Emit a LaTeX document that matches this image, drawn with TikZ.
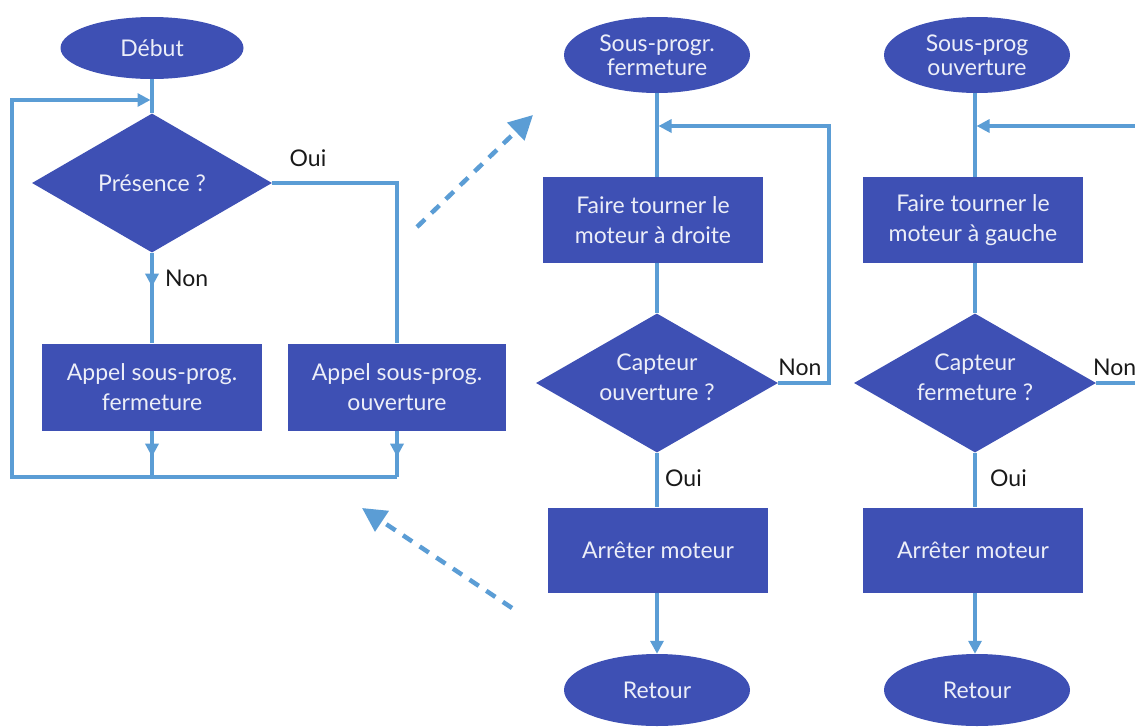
\documentclass[tikz,border=0pt]{standalone}
\usepackage{fontspec}
\setmainfont{Lato}
\usetikzlibrary{shapes.geometric,arrows.meta}
\definecolor{boxblue}{RGB}{62,80,180}
\definecolor{linkblue}{RGB}{91,157,213}
\definecolor{boxtext}{RGB}{236,238,248}
\tikzset{
  base/.style={fill=boxblue, text=boxtext, font=\fontsize{23}{30}\selectfont, align=center, inner sep=0pt},
  term/.style={base, ellipse, minimum width=186, minimum height=76, font=\fontsize{23}{24}\selectfont},
  proc/.style={base, rectangle, minimum width=220, minimum height=86},
  decision/.style={base, diamond, shape aspect=1.74, minimum width=242, minimum height=139},
  link/.style={draw=linkblue, line width=3.2pt},
  arr/.style={link, -{Triangle[length=13pt,width=13pt]}},
  dasharr/.style={draw=linkblue, line width=4.5pt, dash pattern=on 11pt off 9pt, -{Triangle[length=24pt,width=24pt]}},
  lbl/.style={font=\fontsize{23}{25}\selectfont, text=black!90, inner sep=0pt}
}
\newcommand{\lift}{\rule[-11pt]{0pt}{0pt}}
\begin{document}
\begin{tikzpicture}[x=1pt,y=-1pt]
\useasboundingbox (0,0) rectangle (1135,726);
\clip (0,0) rectangle (1135,726);

% ---------- left column ----------
\node[term, minimum width=183, minimum height=62] (debut) at (152,48) {Début};
\node[decision, minimum width=240] (pres) at (152,183) {Présence ?};
\node[proc, minimum height=87] (appF) at (152,387) {Appel sous-prog.\\fermeture};
\node[proc, minimum width=218, minimum height=87] (appO) at (397,387) {Appel sous-prog.\\ouverture};

\coordinate (join) at (152,100);
\coordinate (bl) at (12,477);
\coordinate (br) at (397,477);

\draw[link] (debut.south) -- (pres.north);
\draw[link] (pres.south) -- (appF.north);
\draw[arr] (pres.south) -- ++(0,34);
\node[lbl, anchor=west] (non1) at (165,278) {Non};
\draw[link] (pres.east) -| (appO.north);
\node[lbl] (oui1) at (308,158) {Oui};
\draw[link] (appF.south) -- (appF.south |- bl);
\draw[arr] (appF.south) -- ++(0,26);
\draw[link] (appO.south) -- (br);
\draw[arr] (appO.south) -- ++(0,26);
\draw[arr, shorten >=1.5pt] (br) -- (bl) |- (join);

% ---------- dashed arrows ----------
\coordinate (d1s) at (417,227);
\coordinate (d1e) at (533,115);
\coordinate (d2s) at (512,608);
\coordinate (d2e) at (362,508);
\draw[dasharr] (d1s) -- (d1e);
\draw[dasharr] (d2s) -- (d2e);

% ---------- middle column ----------
\node[term] (spF) at (657,55) {Sous-progr.\\fermeture};
\node[proc] (tD) at (653,220) {Faire tourner le\\moteur à droite};
\node[decision] (cO) at (657,383) {Capteur\\ouverture ?\lift};
\node[proc, minimum height=85] (stopA) at (658,550) {Arrêter moteur};
\node[term, minimum height=72] (retA) at (657,690) {Retour};

\coordinate (lmA) at (657,126);
\draw[link] (spF.south) -- (spF.south |- tD.north);
\draw[link] (spF.south |- tD.south) -- (cO.north);
\draw[arr, shorten >=1.5pt] (cO.east) -| (829,126) -- (lmA);
\node[lbl] (non2) at (800,367) {Non};
\draw[link] (cO.south) -- (cO.south |- stopA.north);
\node[lbl, anchor=west] (oui2) at (665,478) {Oui};
\draw[arr] (cO.south |- stopA.south) -- (retA.north);

% ---------- right column ----------
\node[term] (spO) at (977,55) {Sous-prog\\ouverture};
\node[proc] (tG) at (973,220) {Faire tourner le\\moteur à gauche};
\node[decision] (cF) at (975,383) {Capteur\\fermeture ?\lift};
\node[proc, minimum height=85] (stopB) at (973,550) {Arrêter moteur};
\node[term, minimum height=72] (retB) at (977,690) {Retour};

\coordinate (lmB) at (975,126);
\coordinate (inB) at (1145,126);
\coordinate (outB) at (1145,383);
\draw[link] (cF.north |- spO.south) -- (cF.north |- tG.north);
\draw[link] (cF.north |- tG.south) -- (cF.north);
\draw[arr, shorten >=1.5pt] (inB) -- (lmB);
\draw[link] (cF.east) -- (outB);
\node[lbl, anchor=west] (non3) at (1093,367) {Non};
\draw[link] (cF.south) -- (cF.south |- stopB.north);
\node[lbl, anchor=west] (oui3) at (990,478) {Oui};
\draw[arr] (cF.south |- stopB.south) -- (cF.south |- retB.north);
\end{tikzpicture}
\end{document}
